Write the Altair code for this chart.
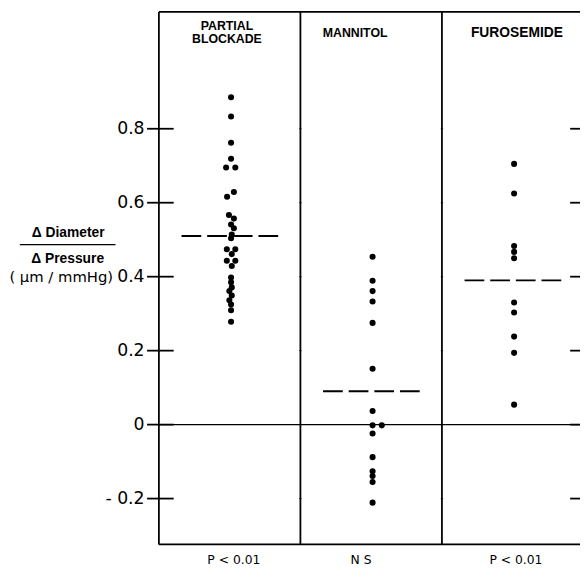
import altair as alt
import pandas as pd

# ---------------- data ----------------
groups = ["PARTIAL BLOCKADE", "MANNITOL", "FUROSEMIDE"]
p_labels = ["P < 0.01", "N S", "P < 0.01"]

blockade = [0.885, 0.833, 0.762, 0.719, 0.695, 0.695, 0.629, 0.616,
            0.567, 0.557, 0.541, 0.531, 0.514, 0.504,
            0.474, 0.474, 0.461, 0.443, 0.443, 0.429,
            0.398, 0.385, 0.371, 0.361, 0.349, 0.336, 0.325, 0.309, 0.278]
blockade_jitter = [0, 0, 0, 0, -0.035, 0.03, 0.02, -0.028,
                   -0.015, 0.02, 0, 0.02, 0.005, 0,
                   -0.03, 0.03, 0.005, -0.03, 0.03, 0.005,
                   0, 0, 0.005, -0.012, 0.005, -0.012, 0, 0, 0]

mannitol = [0.454, 0.389, 0.361, 0.333, 0.275, 0.151, 0.037, -0.002, -0.002,
            -0.024, -0.088, -0.126, -0.139, -0.155, -0.211]
mannitol_jitter = [0, 0, 0, 0, 0, 0, 0, 0, 0.065, 0, 0, 0, 0, 0, 0]

furosemide = [0.705, 0.625, 0.483, 0.467, 0.45, 0.33, 0.303, 0.238, 0.194, 0.054]
furosemide_jitter = [0, 0, 0, 0, 0, 0, 0, 0, 0, 0]

means = [0.51, 0.09, 0.39]
y_ticks = [-0.2, 0.0, 0.2, 0.4, 0.6, 0.8]

# ---------------- layout constants ----------------
Y_MIN, Y_MAX = -0.324, 1.116
W_VIEW = 427          # visible plot width (page is cut at the right)
X_RANGE = 430.5       # full 3-panel width (right border just off page)
H = 540
CENTER = 0.51
HALF = 0.35

rows = []
for gi, (vals, jit) in enumerate([(blockade, blockade_jitter),
                                   (mannitol, mannitol_jitter),
                                   (furosemide, furosemide_jitter)]):
    for v, j in zip(vals, jit):
        rows.append({"group": groups[gi], "x": gi + CENTER + j, "y": v})
pts = pd.DataFrame(rows)

mean_df = pd.DataFrame({
    "group": groups,
    "x": [i + CENTER - HALF for i in range(3)],
    "x2": [i + CENTER + HALF for i in range(3)],
    "y": means,
})

xs = alt.Scale(domain=[0, 3], range=[0, X_RANGE])
ys = alt.Scale(domain=[Y_MIN, Y_MAX], nice=False, zero=False)

label_expr = ("datum.value == 0 ? '0' : (datum.value < 0 ? '- ' + format(-datum.value, '.1f') "
              ": format(datum.value, '.1f'))")
y_axis = alt.Axis(values=y_ticks, labelExpr=label_expr, ticks=False, domain=False,
                  grid=False, title=None, labelFont="DejaVu Sans", labelFontSize=17.5,
                  labelColor="black", labelPadding=15)


def X(field):
    return alt.X(field, scale=xs, axis=None)


def Y(field):
    return alt.Y(field, scale=ys, axis=y_axis)


points = alt.Chart(pts).mark_circle(size=38, color="black", opacity=1).encode(
    x=X("x:Q"), y=Y("y:Q"))

mean_lines = alt.Chart(mean_df).mark_rule(color="black", strokeWidth=2,
                                           strokeDash=[20, 6]).encode(
    x=X("x:Q"), x2="x2:Q", y=Y("y:Q"))

vert_df = pd.DataFrame({"x": [0, 1, 2, 3]})
verticals = alt.Chart(vert_df).mark_rule(color="black", strokeWidth=1.8).encode(
    x=X("x:Q"), y=alt.value(0), y2=alt.value(H))

horiz_df = pd.DataFrame({"y": [Y_MIN, Y_MAX]})
horizontals = alt.Chart(horiz_df).mark_rule(color="black", strokeWidth=1.8).encode(
    y=Y("y:Q"), x=alt.value(0), x2=alt.value(X_RANGE))

zero_df = pd.DataFrame({"y": [0.0]})
zero_line = alt.Chart(zero_df).mark_rule(color="black", strokeWidth=1.2).encode(
    y=Y("y:Q"), x=alt.value(0), x2=alt.value(X_RANGE))

tick_df = pd.DataFrame({"y": y_ticks})
left_ticks = alt.Chart(tick_df).mark_rule(color="black", strokeWidth=1.8).encode(
    y=Y("y:Q"), x=alt.value(-12), x2=alt.value(15))
right_ticks = alt.Chart(tick_df).mark_rule(color="black", strokeWidth=1.8).encode(
    y=Y("y:Q"), x=alt.value(417), x2=alt.value(X_RANGE))

div_ticks_df = pd.DataFrame([{"x": d, "y": t} for d in [1, 2] for t in y_ticks])
div_ticks = alt.Chart(div_ticks_df).mark_point(
    shape="M -1 0 L 1 0", color="black", size=6, strokeWidth=1.2, filled=False).encode(
    x=X("x:Q"), y=Y("y:Q"))

# headers
hdr_font = dict(font="Liberation Sans", fontWeight="bold", fontSize=12.5,
                color="black", align="center", baseline="middle")
header1a = alt.Chart(zero_df).mark_text(**hdr_font).encode(
    x=alt.value(69), y=alt.value(14.5), text=alt.value("PARTIAL"))
header1b = alt.Chart(zero_df).mark_text(**hdr_font).encode(
    x=alt.value(69), y=alt.value(27.5), text=alt.value("BLOCKADE"))
header2 = alt.Chart(zero_df).mark_text(**hdr_font).encode(
    x=alt.value(199), y=alt.value(21), text=alt.value(groups[1]))
hdr_font3 = dict(hdr_font, fontSize=14)
header3 = alt.Chart(zero_df).mark_text(**hdr_font3).encode(
    x=alt.value(363), y=alt.value(21), text=alt.value(groups[2]))

# bottom significance labels
bot_font = dict(font="DejaVu Sans", fontSize=12.5, color="black",
                align="center", baseline="middle")
bottom_layers = []
for lab, px in zip(p_labels, [76, 205, 362]):
    bottom_layers.append(alt.Chart(zero_df).mark_text(**bot_font).encode(
        x=alt.value(px), y=alt.value(556), text=alt.value(lab)))

# y axis title (fraction)
t_font = dict(font="Liberation Sans", fontWeight="bold", fontSize=14,
              color="black", align="center", baseline="middle")
title_top = alt.Chart(zero_df).mark_text(**t_font).encode(
    x=alt.value(-92), y=alt.value(224.5), text=alt.value("Δ Diameter"))
title_bar = alt.Chart(zero_df).mark_rule(color="black", strokeWidth=1.5).encode(
    x=alt.value(-141), x2=alt.value(-44), y=alt.value(236))
title_bot = alt.Chart(zero_df).mark_text(**t_font).encode(
    x=alt.value(-92.5), y=alt.value(250.5), text=alt.value("Δ Pressure"))
title_unit = alt.Chart(zero_df).mark_text(font="DejaVu Sans", fontSize=15, color="black",
                                          align="center", baseline="middle").encode(
    x=alt.value(-99), y=alt.value(269), text=alt.value("( μm / mmHg)"))

chart = alt.layer(
    points, zero_line, horizontals, verticals, left_ticks, right_ticks, div_ticks,
    mean_lines,
    header1a, header1b, header2, header3, *bottom_layers,
    title_top, title_bar, title_bot, title_unit,
).properties(
    width=W_VIEW, height=H,
    autosize=alt.AutoSizeParams(type="none"),
    padding={"left": 153, "top": 0, "right": 0, "bottom": 23},
    background="white",
).configure_view(stroke=None)

chart.save("out.html", embed_options={"renderer": "svg", "actions": False})
